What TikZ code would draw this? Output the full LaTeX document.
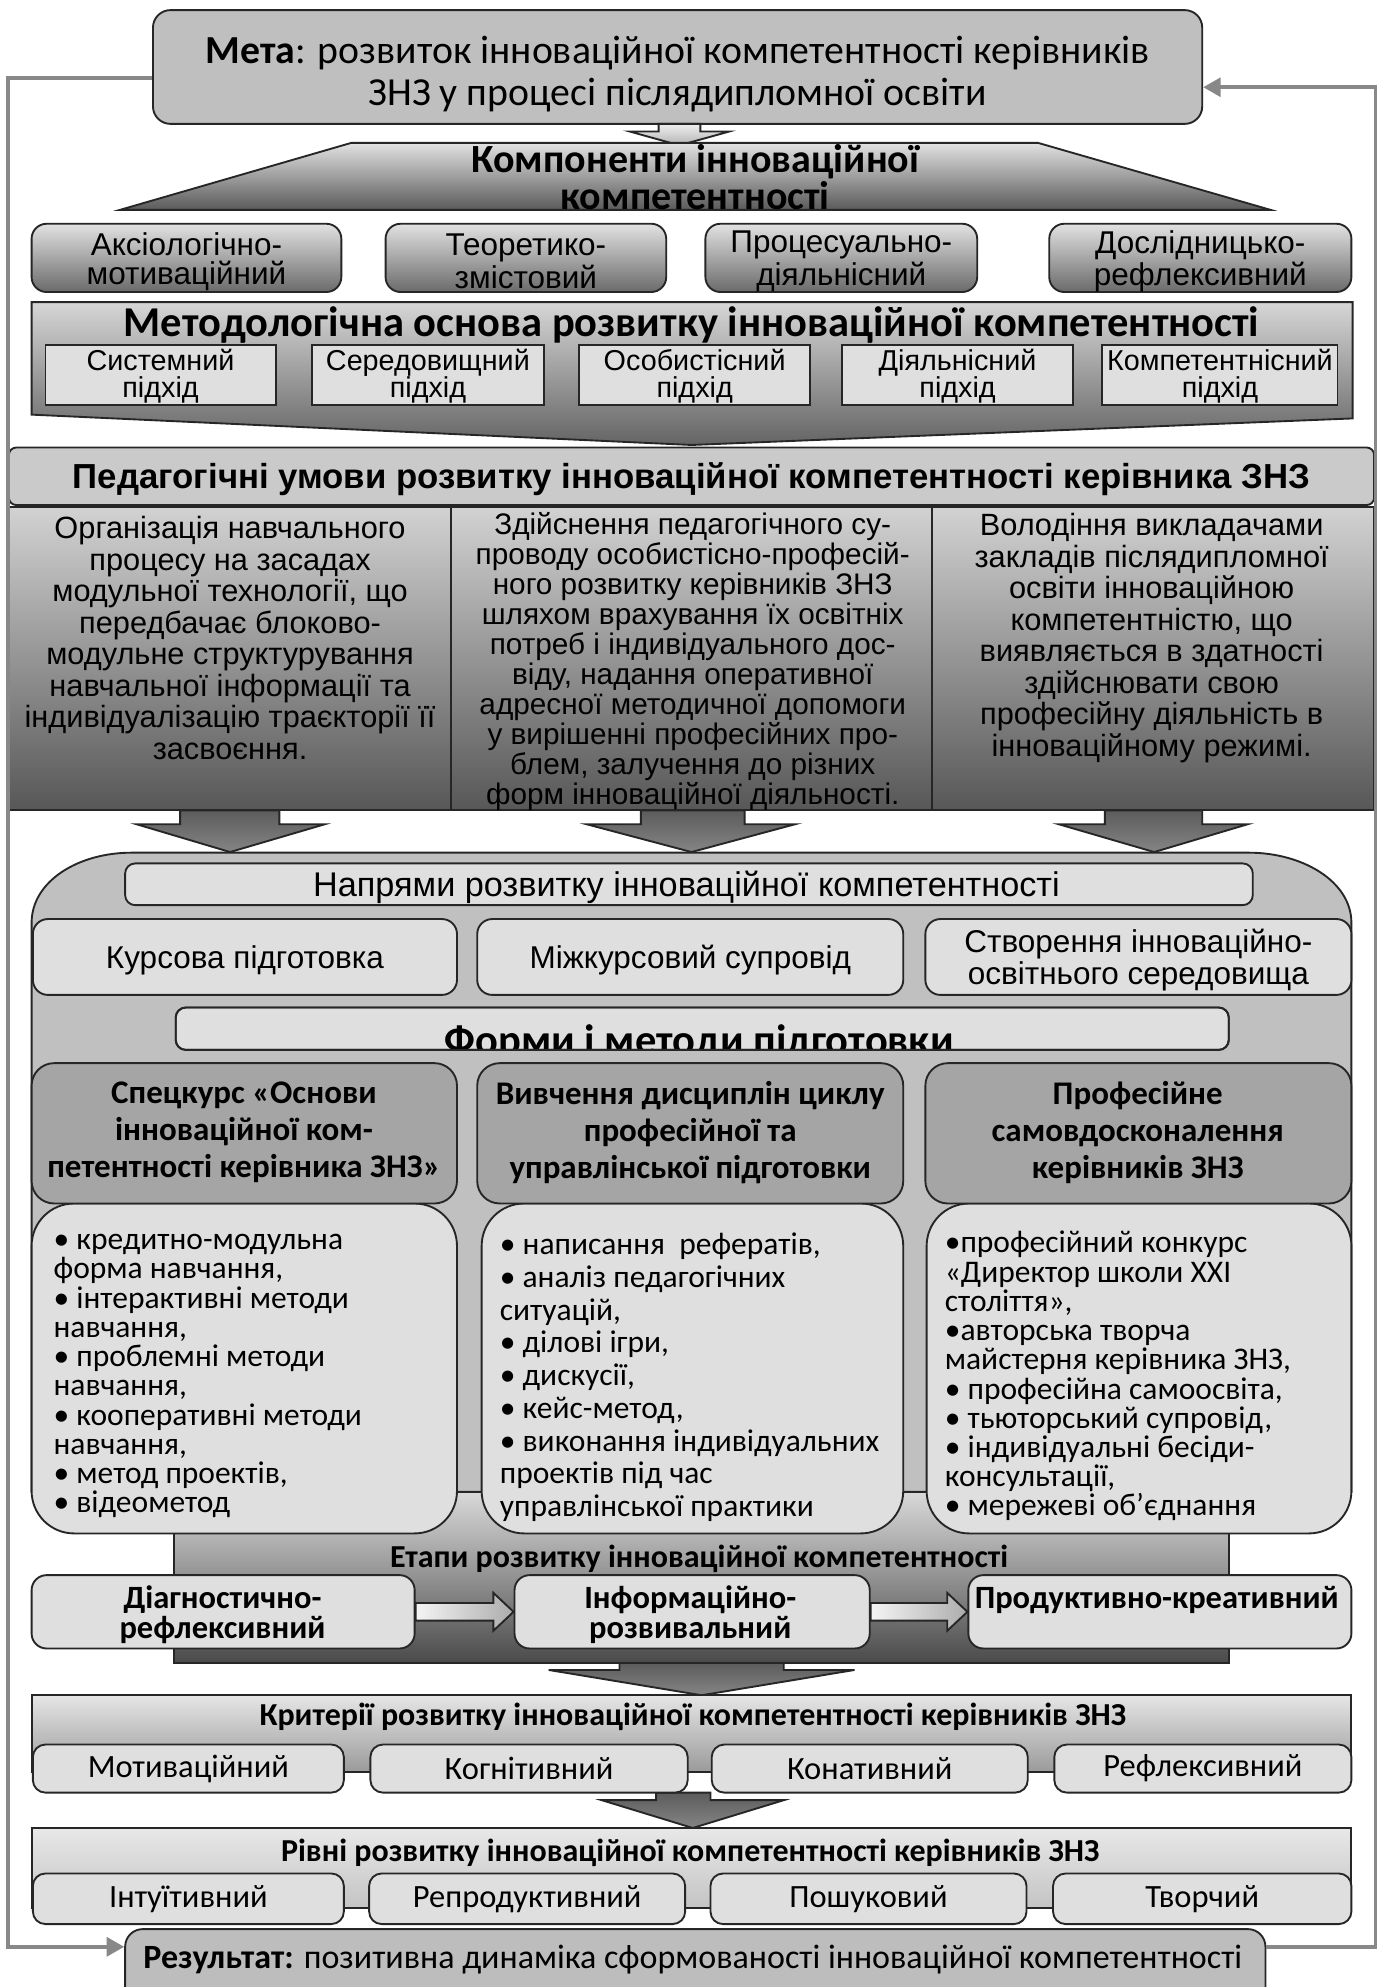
\documentclass[tikz,border=0pt]{standalone}
\usepackage{fontspec}
\setmainfont{Liberation Sans}
\newfontfamily\calfont{Carlito}
\usetikzlibrary{fit,arrows.meta,calc}
\definecolor{cGoal}{HTML}{BFBFBF}
\definecolor{cL}{HTML}{DFDFDF}
\definecolor{cD}{HTML}{A5A5A5}
\definecolor{cCont}{HTML}{C0C0C0}
\definecolor{cPed}{HTML}{CACACA}
\definecolor{cT}{HTML}{E2E2E2}
\definecolor{cB}{HTML}{6A6A6A}
\definecolor{cB2}{HTML}{5A5A5A}
\definecolor{cMT}{HTML}{D6D6D6}
\definecolor{cMB}{HTML}{646464}
\definecolor{cColT}{HTML}{D2D2D2}
\definecolor{cColB}{HTML}{575757}
\definecolor{cEtT}{HTML}{D9D9D9}
\definecolor{cEtB}{HTML}{4A4A4A}
\definecolor{cKT}{HTML}{E6E6E6}
\definecolor{cKB}{HTML}{9A9A9A}
\definecolor{cLT}{HTML}{E8E8E8}
\definecolor{cLB}{HTML}{C4C4C4}
\definecolor{cF}{HTML}{888888}
\definecolor{aT}{HTML}{5C5C5C}
\definecolor{aB}{HTML}{858585}
\definecolor{cRes}{HTML}{BDBDBD}
\newcommand\fs[2]{\fontsize{#1}{#2}\selectfont}
\newcommand\mkb[6]{\node[#6,fit={(#2,#3) (#4,#5)},inner sep=0pt] (#1) {};}
\begin{document}
\begin{tikzpicture}[x=0.50568pt,y=-0.50568pt,
 bd/.style={draw=black!85,line width=0.75pt},
 lbox/.style={bd,fill=cL,rounded corners=#1}, lbox/.default=5pt,
 gbox/.style={bd,top color=cT,bottom color=cB,rounded corners=6pt},
 barr/.style={bd,top color=aT,bottom color=aB},
 harr/.style={bd,left color=gray!8,right color=gray!65},
 fb/.style={draw=cF,line width=1.5pt,-{Triangle[length=7pt,width=7.5pt]}},
 txn/.style={inner sep=0pt,align=center},
 tx/.style={txn,yshift=-1.4pt},
 btx/.style={inner sep=0pt,align=left,anchor=west,yshift=-1.8pt}]
\useasboundingbox (0,0) rectangle (1090,1571.8);
\fill[white] (0,0) rectangle (1090,1571.8);

% ---------- goal
\mkb{goal}{121}{8}{951}{98}{bd,fill=cGoal,rounded corners=7pt}
\node[tx,font=\calfont\fs{15.9}{16.7}] (goalt) at (536,56) {\textbf{Мета}: розвиток інноваційної компетентності керівників\\ЗНЗ у процесі післядипломної освіти};
\path[bd,top color=gray!12,bottom color=gray!60] (521,98) -- (521,104) -- (498,104) -- (537.5,115) -- (577,104) -- (554,104) -- (554,98) -- cycle;

% ---------- components
\path[bd,top color=cT,bottom color=cB2] (278,113) -- (821,113) -- (1005,166) -- (95,166) -- cycle;
\node[txn,font=\calfont\bfseries\fs{16}{13.7}] (compt) at (550,140) {Компоненти інноваційної\\компетентності};
\mkb{c1}{25}{177}{270}{231}{gbox}
\mkb{c2}{305}{177}{527}{231}{gbox}
\mkb{c3}{558}{177}{773}{231}{gbox}
\mkb{c4}{830}{177}{1069}{231}{gbox}
\node[tx,font=\fs{12.6}{11.6}] (c1t) at (c1) {Аксіологічно-\\мотиваційний};
\node[tx,font=\fs{12.6}{11.6}] (c2t) at (c2) {Теоретико-\\змістовий};
\node[tx,font=\fs{12.6}{11.6}] (c3t) at (c3) {Процесуально-\\діяльнісний};
\node[tx,font=\fs{12.6}{11.6}] (c4t) at (c4) {Дослідницько-\\рефлексивний};

% ---------- methodology
\path[bd,top color=cMT,bottom color=cMB] (25,239) -- (1070,239) -- (1070,331) -- (547,352) -- (25,328) -- cycle;
\node[tx,font=\calfont\bfseries\fs{17}{17}] (metht) at (547,254.5) {Методологічна основа розвитку інноваційної компетентності};
\mkb{a1}{36}{273}{218}{320.5}{bd,fill=cL}
\mkb{a2}{247}{273}{430}{320.5}{bd,fill=cL}
\mkb{a3}{458}{273}{641}{320.5}{bd,fill=cL}
\mkb{a4}{666}{273}{849}{320.5}{bd,fill=cL}
\mkb{a5}{872}{273}{1058}{320.5}{bd,fill=cL}
\node[txn,yshift=-0.5pt,font=\fs{11.5}{11}] (a1t) at (a1) {Системний\\підхід};
\node[txn,yshift=-0.5pt,font=\fs{11.5}{11}] (a2t) at (a2) {Середовищний\\підхід};
\node[txn,yshift=-0.5pt,font=\fs{11.5}{11}] (a3t) at (a3) {Особистісний\\підхід};
\node[txn,yshift=-0.5pt,font=\fs{11.5}{11}] (a4t) at (a4) {Діяльнісний\\підхід};
\node[txn,yshift=-0.5pt,font=\fs{11.5}{11}] (a5t) at (a5) {Компетентнісний\\підхід};

% ---------- pedagogical conditions
\mkb{ped}{7}{354}{1087}{399.5}{bd,fill=cPed,rounded corners=3pt}
\node[tx,font=\bfseries\fs{13.9}{14}] (pedt) at (547,376.5) {Педагогічні умови розвитку інноваційної компетентності керівника ЗНЗ};
\path[bd,top color=cColT,bottom color=cColB] (7,401) rectangle (1087,641);
\draw[bd] (356.5,401) -- (356.5,641) (737,401) -- (737,641);
\node[tx,font=\fs{12.3}{12.6}] (col1) at (182,502) {Організація навчального\\процесу на засадах\\модульної технології, що\\передбачає блоково-\\модульне структурування\\навчальної інформації та\\індивідуалізацію траєкторії її\\засвоєння.};
\node[tx,font=\fs{11.9}{12}] (col2) at (548,520.5) {Здійснення педагогічного су-\\проводу особистісно-професій-\\ного розвитку керівників ЗНЗ\\шляхом врахування їх освітніх\\потреб і індивідуального дос-\\віду, надання оперативної\\адресної методичної допомоги\\у вирішенні професійних про-\\блем, залучення до різних\\форм інноваційної діяльності.};
\node[tx,font=\fs{12.3}{12.6}] (col3) at (911,502) {Володіння викладачами\\закладів післядипломної\\освіти інноваційною\\компетентністю, що\\виявляється в здатності\\здійснювати свою\\професійну діяльність в\\інноваційному режимі.};

% ---------- container
\path[bd,fill=cCont] (25,1180) -- (25,730) .. controls (25,697) and (62,674.5) .. (104,674.5) -- (988,674.5) .. controls (1030,674.5) and (1069,697) .. (1069,730) -- (1069,1180) -- cycle;
\path[barr] (142.5,641) -- (142.5,652) -- (108,652) -- (182,674) -- (257,652) -- (221,652) -- (221,641) -- cycle;
\path[barr] (507,641) -- (507,652) -- (464,652) -- (547,674) -- (629,652) -- (589,652) -- (589,641) -- cycle;
\path[barr] (874,641) -- (874,652) -- (837.5,652) -- (913,674) -- (987,652) -- (951,652) -- (951,641) -- cycle;

\mkb{napr}{99}{683}{991}{716}{lbox=4pt}
\node[tx,font=\fs{13.7}{13}] (naprt) at (543,699) {Напрями розвитку інноваційної компетентності};
\mkb{d1}{26}{727}{361.5}{787}{lbox=6pt}
\mkb{d2}{377.5}{727}{714.5}{787}{lbox=6pt}
\mkb{d3}{732}{727}{1069}{787}{lbox=6pt}
\node[tx,font=\fs{12.6}{11.6}] (d1t) at (d1) {Курсова підготовка};
\node[tx,font=\fs{12.6}{11.6}] (d2t) at (d2) {Міжкурсовий супровід};
\node[tx,font=\fs{12.6}{11.6}] (d3t) at (d3) {Створення інноваційно-\\освітнього середовища};

\mkb{forms}{139}{797}{972}{830.5}{lbox=4pt}
\begin{scope}
\clip (139,797) rectangle (972,830.5);
\node[inner sep=0pt,anchor=base,font=\calfont\bfseries\fs{17}{18}] (formst) at (553,834) {Форми і методи підготовки};
\end{scope}
\draw[bd,rounded corners=4pt] (139,797) rectangle (972,830.5);

% ---------- stages background
\path[bd,top color=cEtT,bottom color=cEtB] (137.5,1180) rectangle (972,1315.5);

% ---------- bullet boxes and headers
\mkb{b1}{25}{952}{361.5}{1213}{lbox=17pt}
\mkb{b2}{381}{952}{714.5}{1213}{lbox=17pt}
\mkb{b3}{733}{952}{1069}{1213}{lbox=17pt}
\mkb{h1}{25}{841}{361.5}{952}{bd,fill=cD,rounded corners=9pt}
\mkb{h2}{377.5}{841}{714.5}{952}{bd,fill=cD,rounded corners=9pt}
\mkb{h3}{732}{841}{1069}{952}{bd,fill=cD,rounded corners=9pt}
\node[tx,yshift=-0.5pt,font=\calfont\bfseries\fs{13.2}{14.7}] (h1t) at (193,892) {Спецкурс «Основи\\інноваційної ком-\\петентності керівника ЗНЗ»};
\node[tx,yshift=-0.5pt,font=\calfont\bfseries\fs{13.2}{14.7}] (h2t) at (546,892) {Вивчення дисциплін циклу\\професійної та\\управлінської підготовки};
\node[tx,yshift=-0.5pt,font=\calfont\bfseries\fs{13.2}{14.7}] (h3t) at (900,892) {Професійне\\самовдосконалення\\керівників ЗНЗ};

\node[btx,font=\calfont\fs{12.6}{11.7}] (b1t) at (42,1085) {• кредитно-модульна\\форма навчання,\\• інтерактивні методи\\навчання,\\• проблемні методи\\навчання,\\• кооперативні методи\\навчання,\\• метод проектів,\\• відеометод};
\node[btx,font=\calfont\fs{12.6}{13.1}] (b2t) at (395,1086) {• написання~ рефератів,\\• аналіз педагогічних\\ситуацій,\\• ділові ігри,\\• дискусії,\\• кейс-метод,\\• виконання індивідуальних\\проектів під час\\управлінської практики};
\node[btx,font=\calfont\fs{12.6}{11.7}] (b3t) at (747,1085) {•професійний конкурс\\«Директор школи XXI\\століття»,\\•авторська творча\\майстерня керівника ЗНЗ,\\• професійна самоосвіта,\\• тьюторський супровід,\\• індивідуальні бесіди-\\консультації,\\• мережеві об’єднання};

% ---------- stages
\node[tx,font=\calfont\bfseries\fs{12.8}{13}] (etat) at (553,1230) {Етапи розвитку інноваційної компетентності};
\mkb{e1}{25}{1246}{328}{1304}{lbox=6pt}
\mkb{e2}{407}{1246}{688}{1304}{lbox=6pt}
\mkb{e3}{766}{1246}{1069}{1304}{lbox=6pt}
\node[tx,yshift=-0.6pt,font=\calfont\bfseries\fs{13}{12}] (e1t) at (176,1273) {Діагностично-\\рефлексивний};
\node[tx,yshift=-0.6pt,font=\calfont\bfseries\fs{13}{12}] (e2t) at (546,1273) {Інформаційно-\\розвивальний};
\node[tx,yshift=-0.8pt,font=\calfont\bfseries\fs{13}{12}] (e3t) at (915,1261) {Продуктивно-креативний};
\path[harr] ($(e1.east)+(0,-7)$) -- ($(e2.west)+(-16,-7)$) -- ($(e2.west)+(-16,-15)$) -- (e2.west) -- ($(e2.west)+(-16,15)$) -- ($(e2.west)+(-16,7)$) -- ($(e1.east)+(0,7)$) -- cycle;
\path[harr] ($(e2.east)+(0,-7)$) -- ($(e3.west)+(-16,-7)$) -- ($(e3.west)+(-16,-15)$) -- (e3.west) -- ($(e3.west)+(-16,15)$) -- ($(e3.west)+(-16,7)$) -- ($(e2.east)+(0,7)$) -- cycle;

% ---------- criteria
\path[barr] (490,1315.5) -- (490,1321) -- (434,1321) -- (555,1341) -- (676,1321) -- (620,1321) -- (620,1315.5) -- cycle;
\mkb{crit}{25}{1341}{1069}{1401.5}{bd,top color=cKT,bottom color=cKB}
\node[tx,font=\calfont\bfseries\fs{12.8}{13}] (critt) at (548,1355) {Критерії розвитку інноваційної компетентності керівників ЗНЗ};
\path[barr] (519,1418) -- (519,1424) -- (476,1424) -- (548,1446) -- (620,1424) -- (562,1424) -- (562,1418) -- cycle;
\mkb{k1}{26}{1380}{272}{1418}{lbox=5pt}
\mkb{k2}{293}{1380}{544}{1418}{lbox=5pt}
\mkb{k3}{563}{1380}{813}{1418}{lbox=5pt}
\mkb{k4}{834}{1380}{1069}{1418}{lbox=5pt}
\node[txn,font=\calfont\fs{13}{14}] (k1t) at (k1) {Мотиваційний};
\node[txn,font=\calfont\fs{13}{14}] (k2t) at (k2) {Когнітивний};
\node[txn,font=\calfont\fs{13}{14}] (k3t) at (k3) {Конативний};
\node[txn,font=\calfont\fs{13}{14}] (k4t) at (k4) {Рефлексивний};

% ---------- levels
\mkb{lev}{25}{1446}{1069}{1509}{bd,top color=cLT,bottom color=cLB}
\node[tx,font=\calfont\bfseries\fs{12.8}{13}] (levt) at (546,1463) {Рівні розвитку інноваційної компетентності керівників ЗНЗ};
\mkb{l1}{26}{1482}{272}{1522}{lbox=5pt}
\mkb{l2}{292}{1482}{542}{1522}{lbox=5pt}
\mkb{l3}{562}{1482}{812}{1522}{lbox=5pt}
\mkb{l4}{833}{1482}{1069}{1522}{lbox=5pt}
\node[txn,font=\calfont\fs{13}{14}] (l1t) at (l1) {Інтуїтивний};
\node[txn,font=\calfont\fs{13}{14}] (l2t) at (l2) {Репродуктивний};
\node[txn,font=\calfont\fs{13}{14}] (l3t) at (l3) {Пошуковий};
\node[txn,font=\calfont\fs{13}{14}] (l4t) at (l4) {Творчий};

% ---------- result
\mkb{res}{99}{1526}{1001}{1595}{bd,fill=cRes,rounded corners=7pt}
\node[tx,yshift=-0.6pt,font=\calfont\fs{13.6}{14}] (rest) at (548,1546) {\textbf{Результат:} позитивна динаміка сформованості інноваційної компетентності};

% ---------- feedback loop
\coordinate (fl1) at (6.5,62);
\coordinate (fl2) at (6.5,1540);
\coordinate (fr1) at (1088,1540);
\coordinate (fr2) at (1088,69);
\draw[fb] (goal.west |- fl1) -- (fl1) -- (fl2) -- (res.west |- fl2);
\draw[fb] (res.east |- fr1) -- (fr1) -- (fr2) -- (goal.east |- fr2);
\end{tikzpicture}
\end{document}
